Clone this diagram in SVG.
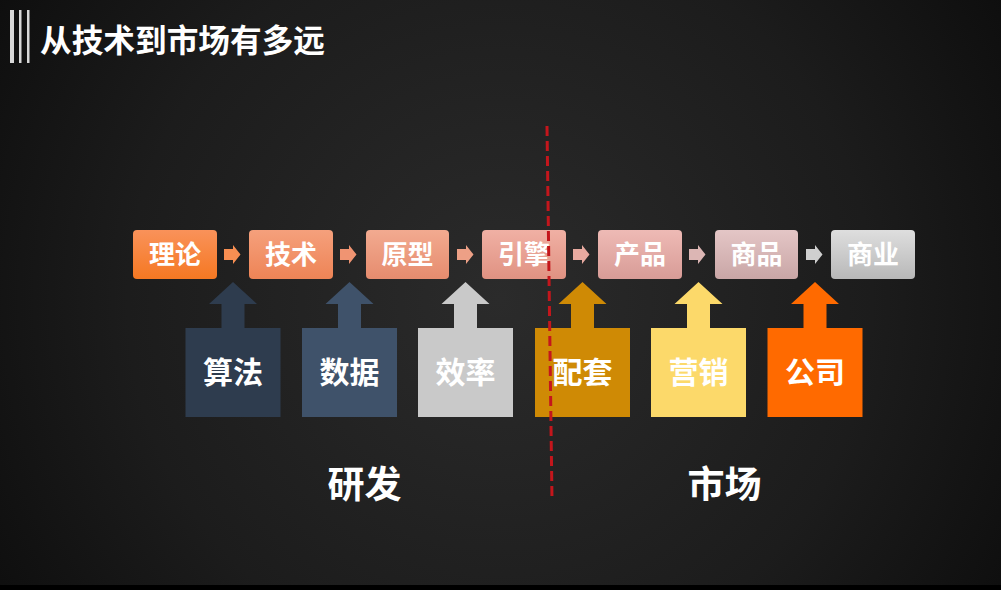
<svg xmlns="http://www.w3.org/2000/svg" xmlns:xlink="http://www.w3.org/1999/xlink" width="1001" height="590" viewBox="0 0 1001 590">
  <defs>
    <radialGradient id="bg" cx="500" cy="300" r="620" gradientUnits="userSpaceOnUse">
      <stop offset="0" stop-color="#2b2b2b"/>
      <stop offset="0.6" stop-color="#1c1c1c"/>
      <stop offset="1" stop-color="#0c0c0c"/>
    </radialGradient>
    <linearGradient id="g1" x1="0" y1="0" x2="0" y2="1"><stop offset="0" stop-color="#f9925a"/><stop offset="1" stop-color="#f57822"/></linearGradient>
    <linearGradient id="g2" x1="0" y1="0" x2="0" y2="1"><stop offset="0" stop-color="#f5a07c"/><stop offset="1" stop-color="#ee8456"/></linearGradient>
    <linearGradient id="g3" x1="0" y1="0" x2="0" y2="1"><stop offset="0" stop-color="#f2aa90"/><stop offset="1" stop-color="#e68c6e"/></linearGradient>
    <linearGradient id="g4" x1="0" y1="0" x2="0" y2="1"><stop offset="0" stop-color="#f0b0a4"/><stop offset="1" stop-color="#e09282"/></linearGradient>
    <linearGradient id="g5" x1="0" y1="0" x2="0" y2="1"><stop offset="0" stop-color="#eebab5"/><stop offset="1" stop-color="#d89c97"/></linearGradient>
    <linearGradient id="g6" x1="0" y1="0" x2="0" y2="1"><stop offset="0" stop-color="#e4c6c6"/><stop offset="1" stop-color="#c9a6a6"/></linearGradient>
    <linearGradient id="g7" x1="0" y1="0" x2="0" y2="1"><stop offset="0" stop-color="#dedede"/><stop offset="1" stop-color="#b8b8b8"/></linearGradient>
    <path id="up" d="M-47.5 417 V328 H-11.5 V304 H-24 L0 282 L24 304 H11.5 V328 H47.5 V417 Z"/>
    <path id="sm" d="M0 249 H9 V245 L16.5 254.5 L9 264 V260 H0 Z"/>
  </defs>
  <style>
    .t{font-family:"Noto Sans CJK SC","Noto Sans",sans-serif;font-weight:bold;fill:#ffffff;text-anchor:middle}
    .top{font-size:26px}
    .bot{font-size:30px}
    .big{font-size:37px}
    .title{font-family:"Noto Sans CJK SC","Noto Sans",sans-serif;font-weight:bold;fill:#ffffff;font-size:31.5px}
    .bar{fill:#d8d8d8}
  </style>
  <rect width="1001" height="590" fill="url(#bg)"/>
  <rect y="585" width="1001" height="5" fill="#000"/>

  <g id="title">
    <rect class="bar" x="10" y="10" width="4" height="53"/>
    <rect class="bar" x="19" y="10" width="2.5" height="53"/>
    <rect class="bar" x="27" y="10" width="2.5" height="53"/>
    <text class="title" x="40" y="52" textLength="285" lengthAdjust="spacingAndGlyphs">从技术到市场有多远</text>
  </g>

  <g id="connectors">
    <use href="#sm" x="224" fill="#f88f52"/>
    <use href="#sm" x="340" fill="#f09472"/>
    <use href="#sm" x="457" fill="#eda086"/>
    <use href="#sm" x="573" fill="#e8aaa0"/>
    <use href="#sm" x="689" fill="#dcb6b4"/>
    <use href="#sm" x="806" fill="#cfcfcf"/>
  </g>

  <g id="n-lilun"><rect x="133" y="230" width="84" height="49" rx="4" fill="url(#g1)"/><text class="t top" x="175" y="264">理论</text></g>
  <g id="n-jishu"><rect x="249" y="230" width="84" height="49" rx="4" fill="url(#g2)"/><text class="t top" x="291" y="264">技术</text></g>
  <g id="n-yuanxing"><rect x="366" y="230" width="83" height="49" rx="4" fill="url(#g3)"/><text class="t top" x="407.5" y="264">原型</text></g>
  <g id="n-yinqing"><rect x="482" y="230" width="84" height="49" rx="4" fill="url(#g4)"/><text class="t top" x="524" y="264">引擎</text></g>
  <g id="n-chanpin"><rect x="598" y="230" width="84" height="49" rx="4" fill="url(#g5)"/><text class="t top" x="640" y="264">产品</text></g>
  <g id="n-shangpin"><rect x="715" y="230" width="83" height="49" rx="4" fill="url(#g6)"/><text class="t top" x="756.5" y="264">商品</text></g>
  <g id="n-shangye"><rect x="831" y="230" width="84" height="49" rx="4" fill="url(#g7)"/><text class="t top" x="873" y="264">商业</text></g>

  <g id="n-suanfa"><use href="#up" x="233" fill="#2e3c4e"/><text class="t bot" x="233" y="383">算法</text></g>
  <g id="n-shuju"><use href="#up" x="349.5" fill="#3f526a"/><text class="t bot" x="349.5" y="383">数据</text></g>
  <g id="n-xiaolv"><use href="#up" x="465.5" fill="#c9c9c9"/><text class="t bot" x="465.5" y="383">效率</text></g>
  <g id="n-peitao"><use href="#up" x="582.5" fill="#cf8a05"/><text class="t bot" x="582.5" y="383">配套</text></g>
  <g id="n-yingxiao"><use href="#up" x="698.5" fill="#fcd96a"/><text class="t bot" x="698.5" y="383">营销</text></g>
  <g id="n-gongsi"><use href="#up" x="815" fill="#ff6a00"/><text class="t bot" x="815" y="383">公司</text></g>

  <g id="labels">
    <text class="t big" x="364.5" y="498">研发</text>
    <text class="t big" x="724.5" y="498">市场</text>
  </g>

  <line x1="547" y1="126" x2="552" y2="500" stroke="#c4161c" stroke-width="3" stroke-dasharray="10 5"/>
</svg>
